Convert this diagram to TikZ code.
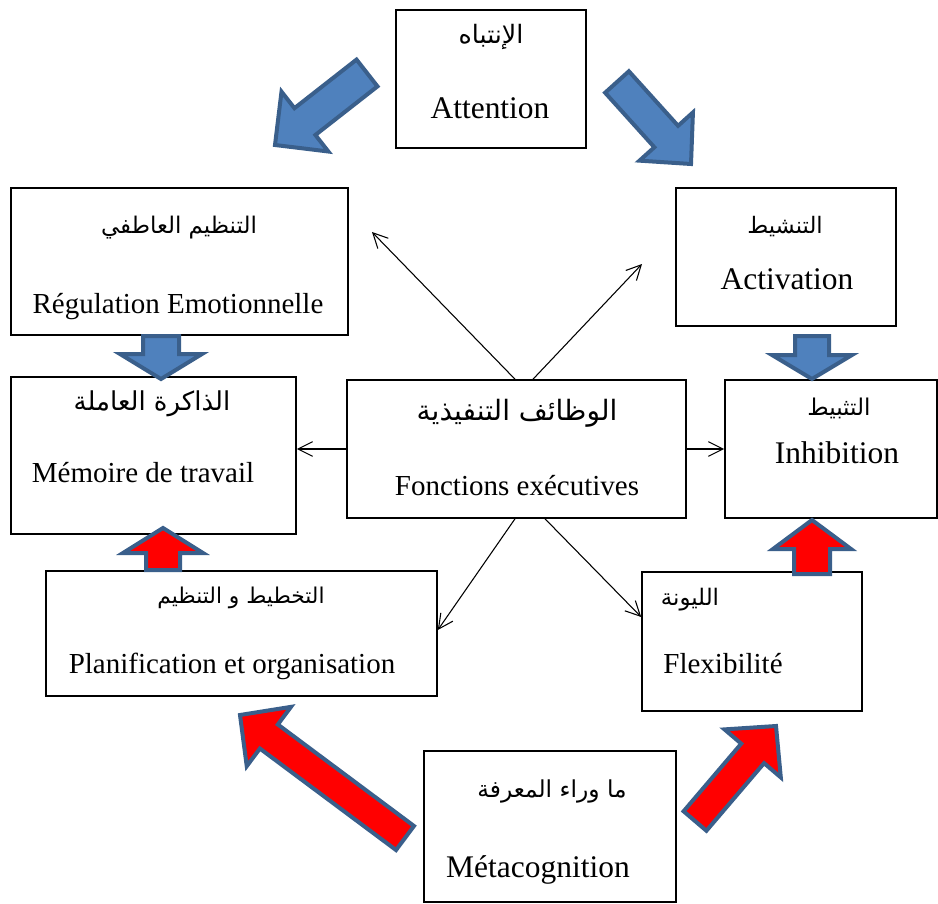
\documentclass[tikz,border=0pt]{standalone}
\usepackage{fontspec}
\setmainfont{Liberation Serif}
\newfontfamily\arabicfont[Script=Arabic]{DejaVu Sans}
\TeXXeTstate=1
\usetikzlibrary{calc,arrows.meta}

\definecolor{arrowblue}{HTML}{4F81BD}
\definecolor{arrowedge}{HTML}{3A5F8B}
\definecolor{arrowred}{HTML}{FF0000}

\tikzset{
  box/.style={draw=black, line width=1.2pt, rectangle, inner sep=0pt},
  latin/.style={font=\fontsize{21.75}{26}\selectfont, anchor=base, inner sep=0pt},
  latinbig/.style={font=\fontsize{23.6}{28}\selectfont, anchor=base, inner sep=0pt},
  arab/.style={font=\arabicfont\fontsize{#1}{#1}\selectfont, anchor=base, inner sep=0pt},
  arab/.default=17,
  link/.style={draw=black, line width=0.8pt, -{Straight Barb[length=11pt,width=11pt]}},
  bluearrow/.style={fill=arrowblue, draw=arrowedge, line width=3pt, line join=miter},
  redarrow/.style={fill=arrowred, draw=arrowedge, line width=3pt, line join=miter},
}

% block arrow: style, tail, tip, shaft half width, head half width, head length
\newcommand\blockarrow[6]{%
  \coordinate (hb) at ($(#3)!#6!(#2)$);
  \draw[#1] ($(#2)!#4!90:(#3)$) -- ($(hb)!#4!90:(#3)$) -- ($(hb)!#5!90:(#3)$)
    -- (#3) -- ($(hb)!#5!-90:(#3)$) -- ($(hb)!#4!-90:(#3)$) -- ($(#2)!#4!-90:(#3)$) -- cycle;
}

\begin{document}
\begin{tikzpicture}[x=0.75pt,y=-0.75pt]
\useasboundingbox (0,0) rectangle (938,903);

% boxes
\node[box, minimum width=142.5pt, minimum height=103.5pt] (att) at (491,79) {};
\node[box, minimum width=252.75pt, minimum height=110.25pt] (reg) at (179.5,261.5) {};
\node[box, minimum width=213.75pt, minimum height=117.75pt] (mem) at (153.5,455.5) {};
\node[box, minimum width=254.25pt, minimum height=103.5pt] (fon) at (516.5,449) {};
\node[box, minimum width=165pt, minimum height=103.5pt] (act) at (786,257) {};
\node[box, minimum width=159pt, minimum height=103.5pt] (inh) at (831,449) {};
\node[box, minimum width=293.25pt, minimum height=93.75pt] (pla) at (241.5,633.5) {};
\node[box, minimum width=165pt, minimum height=104.25pt] (fle) at (752,641.5) {};
\node[box, minimum width=189pt, minimum height=113.25pt] (met) at (550,826.5) {};

% labels
\node[arab=19] (attAr) at (491,43) {\beginR الإنتباه\endR};
\node[latinbig] (attFr) at (490,118) {Attention};
\node[arab=17.2] (regAr) at (179,233) {\beginR التنظيم العاطفي\endR};
\node[latin] (regFr) at (178,313) {Régulation Emotionnelle};
\node[arab=19.5] (memAr) at (152,410) {\beginR الذاكرة العاملة\endR};
\node[latin] (memFr) at (143,482) {Mémoire de travail};
\node[arab=21] (fonAr) at (517,420) {\beginR الوظائف التنفيذية\endR};
\node[latin] (fonFr) at (517,495) {Fonctions exécutives};
\node[arab=17] (actAr) at (785,233) {\beginR التنشيط\endR};
\node[latinbig] (actFr) at (787,289) {Activation};
\node[arab=17.3] (inhAr) at (839,415) {\beginR التثبيط\endR};
\node[latinbig] (inhFr) at (837,463) {Inhibition};
\node[arab=16.3] (plaAr) at (241,603) {\beginR التخطيط و التنظيم\endR};
\node[latin] (plaFr) at (232,673) {Planification et organisation};
\node[arab=17.1] (fleAr) at (690,605) {\beginR الليونة\endR};
\node[latin] (fleFr) at (723,673) {Flexibilité};
\node[arab=17.5] (metAr) at (552,797) {\beginR ما وراء المعرفة\endR};
\node[latinbig] (metFr) at (538,877) {Métacognition};

% thin links from the central box
\coordinate (ulEnd) at (372,232);
\coordinate (urEnd) at (642,264);
\draw[link] ($(fon.north)+(-1.5,0)$) -- (ulEnd);
\draw[link] ($(fon.north)+(16.5,0)$) -- (urEnd);
\draw[link] (fon.west) -- (fon.west -| mem.east);
\draw[link] (fon.east) -- (fon.east -| inh.west);
\draw[link] ($(fon.south)+(-1.5,0)$) -- ($(pla.east)+(0,-3.5)$);
\draw[link] ($(fon.south)+(28.5,0)$) -- ($(fle.west)+(0,-24.5)$);

% block arrows
\coordinate (b1t) at (367,73);  \coordinate (b1h) at (275,145);
\coordinate (b2t) at (617,82);  \coordinate (b2h) at (691,164);
\coordinate (b3t) at (161,336); \coordinate (b3h) at (161,379);
\coordinate (b4t) at (812,336); \coordinate (b4h) at (812,379);
\coordinate (r1t) at (163,570); \coordinate (r1h) at (163,528);
\coordinate (r2t) at (812,574); \coordinate (r2h) at (812,520);
\coordinate (r3t) at (405,838); \coordinate (r3h) at (240,715);
\coordinate (r4t) at (695,821); \coordinate (r4h) at (776,726);

\blockarrow{bluearrow}{b1t}{b1h}{12.75pt}{28.5pt}{28.5pt}
\blockarrow{bluearrow}{b2t}{b2h}{12pt}{27pt}{27.75pt}
\blockarrow{bluearrow}{b3t}{b3h}{13.5pt}{30.75pt}{18.75pt}
\blockarrow{bluearrow}{b4t}{b4h}{12.75pt}{30pt}{18pt}
\blockarrow{redarrow}{r1t}{r1h}{12.75pt}{30pt}{18.75pt}
\blockarrow{redarrow}{r2t}{r2h}{13.5pt}{29.25pt}{21.75pt}
\blockarrow{redarrow}{r3t}{r3h}{11.25pt}{27.75pt}{27pt}
\blockarrow{redarrow}{r4t}{r4h}{11.25pt}{27.75pt}{27pt}
\end{tikzpicture}
\end{document}
